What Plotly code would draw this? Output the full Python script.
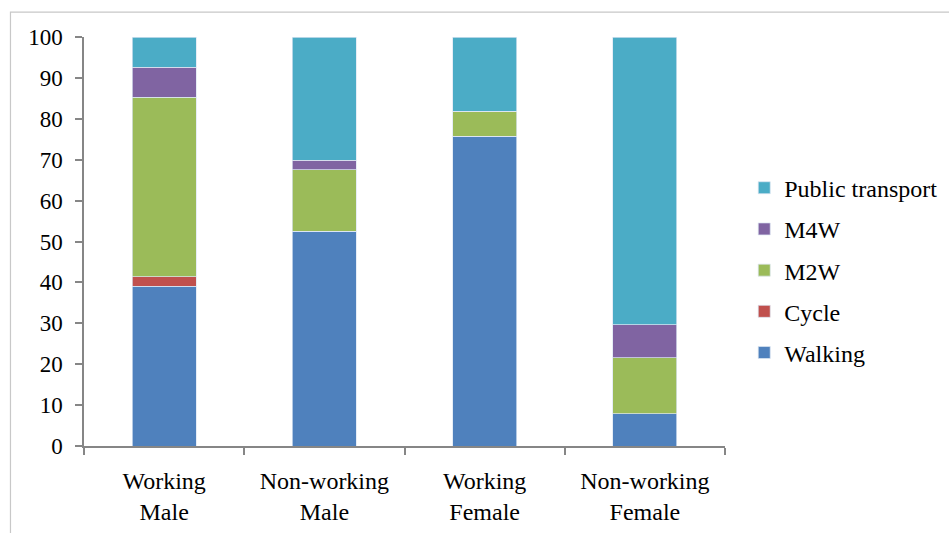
import plotly.graph_objects as go

categories = ["Working<br>Male", "Non-working<br>Male", "Working<br>Female", "Non-working<br>Female"]
walking = [39.0, 52.5, 75.7, 7.9]
cycle = [2.4, 0.0, 0.0, 0.0]
m2w = [43.9, 15.0, 6.2, 13.7]
m4w = [7.3, 2.4, 0.0, 8.1]
public_transport = [7.4, 30.1, 18.1, 70.3]

series = [
    ("Walking", walking, "#4F81BD"),
    ("Cycle", cycle, "#C0504D"),
    ("M2W", m2w, "#9BBB59"),
    ("M4W", m4w, "#8064A2"),
    ("Public transport", public_transport, "#4BACC6"),
]

font_family = "Liberation Serif, Times New Roman, serif"

fig = go.Figure()
for i, (name, vals, color) in enumerate(series):
    fig.add_trace(go.Bar(
        name=name, x=categories, y=vals, legendgroup=name,
        legendrank=len(series) - i,
        marker=dict(color=color, line=dict(color="rgba(220,230,242,0.9)", width=0.8)),
    ))

fig.update_layout(
    width=949, height=533,
    barmode="stack", bargap=0.6,
    paper_bgcolor="white", plot_bgcolor="white",
    margin=dict(l=84, r=224, t=37, b=87, autoexpand=False),
    font=dict(family=font_family, size=24, color="black"),
    showlegend=True,
    legend=dict(
        x=1.03, xanchor="left", y=0.43, yanchor="middle",
        traceorder="grouped", tracegroupgap=7,
        font=dict(family=font_family, size=24, color="black"),
        itemwidth=30, bgcolor="rgba(0,0,0,0)",
    ),
    shapes=[dict(
        type="rect", xref="paper", yref="paper",
        x0=-0.1147, x1=2.0, y0=-1.0, y1=1.061,
        line=dict(color="#c8c8c8", width=1.2), layer="below",
    )],
)

fig.update_xaxes(
    type="category", tickson="boundaries",
    showline=True, linecolor="#868686", linewidth=1.5,
    ticks="outside", ticklen=7, tickcolor="#868686", tickwidth=1.5,
    showgrid=False, zeroline=False, ticklabelstandoff=12,
    tickfont=dict(family=font_family, size=24, color="black"),
)
fig.update_yaxes(
    range=[0, 100], tickmode="linear", tick0=0, dtick=10,
    showline=True, linecolor="#868686", linewidth=1.5,
    ticks="outside", ticklen=7, tickcolor="#868686", tickwidth=1.5,
    showgrid=False, zeroline=False, ticklabelstandoff=8,
    tickfont=dict(family=font_family, size=23, color="black"),
)

fig.write_html("out.html")
